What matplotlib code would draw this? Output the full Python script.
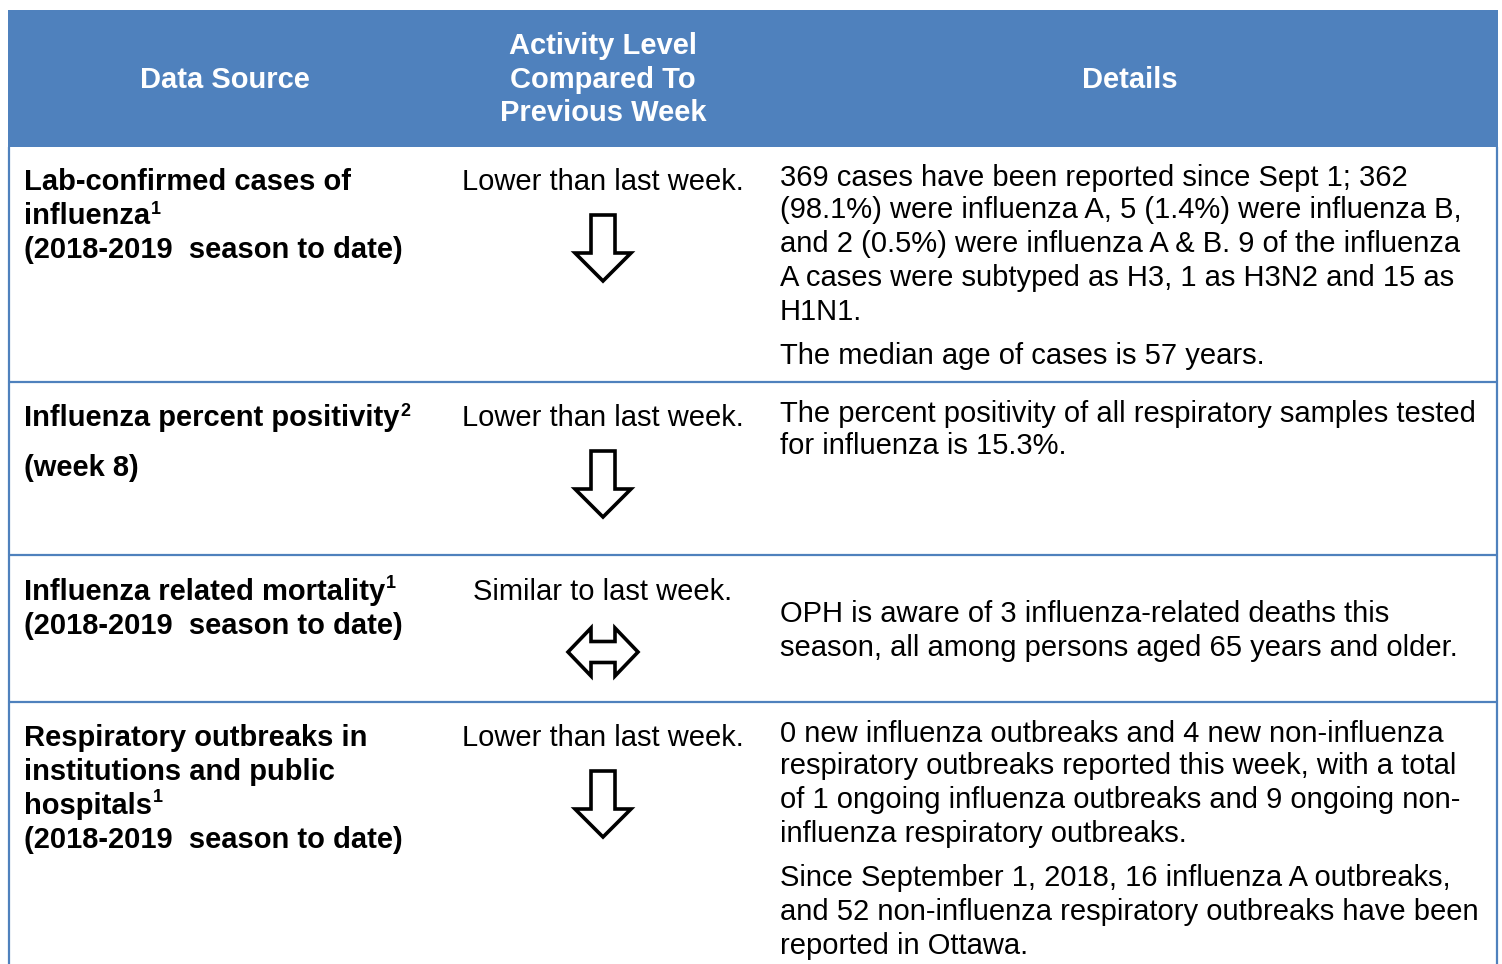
import matplotlib.pyplot as plt
from matplotlib.patches import Rectangle, Polygon

plt.rcParams["font.family"] = ["Liberation Sans", "DejaVu Sans"]

# table content
header_labels = ["Data Source", "Activity Level\nCompared To\nPrevious Week", "Details"]

source_lines = [
    [("Lab-confirmed cases of", ""), ("influenza", "1"), ("(2018-2019  season to date)", "")],
    [("Influenza percent positivity", "2"), ("(week 8)", "")],
    [("Influenza related mortality", "1"), ("(2018-2019  season to date)", "")],
    [("Respiratory outbreaks in", ""), ("institutions and public", ""), ("hospitals", "1"),
     ("(2018-2019  season to date)", "")],
]

activity_text = ["Lower than last week.", "Lower than last week.",
                 "Similar to last week.", "Lower than last week."]
activity_trend = ["down", "down", "same", "down"]

details_lines = [
    ["369 cases have been reported since Sept 1; 362",
     "(98.1%) were influenza A, 5 (1.4%) were influenza B,",
     "and 2 (0.5%) were influenza A & B. 9 of the influenza",
     "A cases were subtyped as H3, 1 as H3N2 and 15 as",
     "H1N1.",
     "The median age of cases is 57 years."],
    ["The percent positivity of all respiratory samples tested",
     "for influenza is 15.3%."],
    ["OPH is aware of 3 influenza-related deaths this",
     "season, all among persons aged 65 years and older."],
    ["0 new influenza outbreaks and 4 new non-influenza",
     "respiratory outbreaks reported this week, with a total",
     "of 1 ongoing influenza outbreaks and 9 ongoing non-",
     "influenza respiratory outbreaks.",
     "Since September 1, 2018, 16 influenza A outbreaks,",
     "and 52 non-influenza respiratory outbreaks have been",
     "reported in Ottawa."],
]

# layout (pixels, y downwards)
W, H = 1502, 964
BLUE = "#4f81bd"
FS = 21
LEFT, RIGHT = 9, 1497
HEADER_TOP, HEADER_BOTTOM = 10, 147
row_lines = [382, 555, 702]
col_centers = [225, 603, 1130]
src_x, act_x, det_x = 24, 603, 780

source_y = [[180, 214, 247], [416, 465], [589, 623], [736, 769, 803, 837]]
activity_y = [180, 416, 589, 736]
arrow_y = [213, 449, 652, 769]
details_y = [
    [175, 208, 242, 276, 310, 354],
    [411, 444],
    [612, 646],
    [731, 764, 798, 832, 876, 910, 944],
]
BASE = 10.5  # centre of caps -> baseline

fig = plt.figure(figsize=(W / 100, H / 100), dpi=100)
ax = fig.add_axes([0, 0, 1, 1])
ax.set_xlim(0, W)
ax.set_ylim(H, 0)
ax.axis("off")

# header band
ax.add_patch(Rectangle((LEFT - 1, HEADER_TOP), RIGHT - LEFT + 2, HEADER_BOTTOM - HEADER_TOP,
                       color=BLUE, lw=0))
for cx, lab in zip(col_centers, header_labels):
    ax.text(cx, (HEADER_TOP + HEADER_BOTTOM) / 2 + 1, lab, color="white", fontsize=FS,
            fontweight="bold", ha="center", va="center", linespacing=1.24)

# borders
ax.plot([LEFT, LEFT], [HEADER_BOTTOM, H], color=BLUE, lw=1.6, solid_capstyle="butt")
ax.plot([RIGHT, RIGHT], [HEADER_BOTTOM, H], color=BLUE, lw=1.6, solid_capstyle="butt")
for y in row_lines:
    ax.plot([LEFT, RIGHT], [y, y], color=BLUE, lw=1.6, solid_capstyle="butt")

renderer = fig.canvas.get_renderer()

# data source column with superscripts
for lines, ys in zip(source_lines, source_y):
    for (txt, sup), y in zip(lines, ys):
        t = ax.text(src_x, y + BASE, txt, fontsize=FS, fontweight="bold",
                    ha="left", va="baseline")
        if sup:
            bb = t.get_window_extent(renderer)
            ax.text(bb.x1 + 1, y + BASE - 11, sup, fontsize=13, fontweight="bold",
                    ha="left", va="baseline")

# activity column
def down_arrow(cx, top):
    pts = [(cx - 12, top), (cx + 12, top), (cx + 12, top + 38), (cx + 28, top + 38),
           (cx, top + 66), (cx - 28, top + 38), (cx - 12, top + 38)]
    return Polygon(pts, closed=True, fill=False, ec="black", lw=2.6, joinstyle="miter")


def both_arrow(cx, cy):
    pts = [(cx - 35, cy), (cx - 12, cy - 24), (cx - 12, cy - 10.5), (cx + 12, cy - 10.5),
           (cx + 12, cy - 24), (cx + 35, cy), (cx + 12, cy + 24), (cx + 12, cy + 10.5),
           (cx - 12, cy + 10.5), (cx - 12, cy + 24)]
    return Polygon(pts, closed=True, fill=False, ec="black", lw=2.6, joinstyle="miter")


for txt, trend, y, ay in zip(activity_text, activity_trend, activity_y, arrow_y):
    ax.text(act_x, y + BASE, txt, fontsize=FS, ha="center", va="baseline")
    if trend == "down":
        ax.add_patch(down_arrow(act_x, ay + 2))
    else:
        ax.add_patch(both_arrow(act_x, ay))

# details column
for lines, ys in zip(details_lines, details_y):
    for txt, y in zip(lines, ys):
        ax.text(det_x, y + BASE, txt, fontsize=FS, ha="left", va="baseline")

fig.savefig("out.png", dpi=100, facecolor="white")
